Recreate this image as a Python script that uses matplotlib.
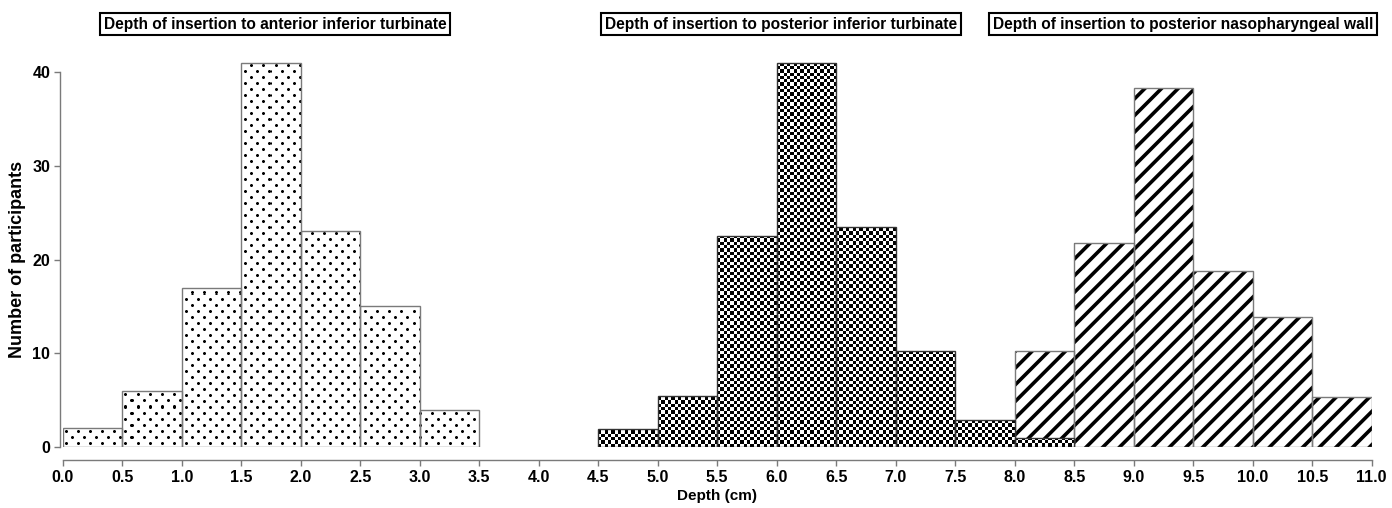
import numpy as np
import matplotlib
matplotlib.use('Agg')
import matplotlib.pyplot as plt

plt.rcParams['font.family'] = ['Liberation Sans', 'DejaVu Sans']
plt.rcParams['font.weight'] = 'bold'

# bin left edges (cm) and bar heights
ant_edges = [0.0, 0.5, 1.0, 1.5, 2.0, 2.5, 3.0]
ant_counts = [2, 6, 17, 41, 23, 15, 4]
post_edges = [4.5, 5.0, 5.5, 6.0, 6.5, 7.0, 7.5, 8.0]
post_counts = [1.9, 5.4, 22.5, 41, 23.5, 10.2, 2.9, 1.0]
naso_edges = [8.0, 8.5, 9.0, 9.5, 10.0, 10.5]
naso_counts = [10.2, 21.8, 38.3, 18.8, 13.9, 5.3]

titles = ['Depth of insertion to anterior inferior turbinate',
          'Depth of insertion to posterior inferior turbinate',
          'Depth of insertion to posterior nasopharyngeal wall']
xticks = np.arange(0, 11.01, 0.5)
yticks = [0, 10, 20, 30, 40]
binw = 0.5

W, H = 1392, 508
fig = plt.figure(figsize=(W/100, H/100), dpi=100)
ax = fig.add_axes([62.7/W, 61/H, 1309/W, 393.75/H])
ax.set_xlim(0, 11)
ax.set_ylim(0, 42)

edge_grey = '#7a7a7a'


def texture_fill(patches, tex, extent, z):
    # paint a bitmap texture inside each bar
    for p in patches:
        im = ax.imshow(tex, cmap='gray', vmin=0, vmax=1, extent=extent,
                       origin='lower', aspect='auto',
                       interpolation='nearest', zorder=z)
        im.set_clip_path(p)


# nasopharyngeal wall: thick diagonal hatch
plt.rcParams['hatch.linewidth'] = 2.6
ax.bar(naso_edges, naso_counts, width=binw, align='edge', color='white',
       edgecolor='black', linewidth=0, hatch='//', zorder=2)
plt.rcParams['hatch.linewidth'] = 1.0
ax.bar(naso_edges, naso_counts, width=binw, align='edge', fill=False,
       edgecolor=edge_grey, linewidth=1.0, zorder=3)

# anterior inferior turbinate: staggered dot texture (soft 3x3 dots)
ii, jj = np.indices((394, 417))
cell = 6
on = (ii // cell + jj // cell) % 2 == 0
di = np.abs(ii % cell - 3)
dj = np.abs(jj % cell - 3)
dot_tex = np.ones(ii.shape)
dot_tex[on & (di <= 1) & (dj <= 1)] = 0.45
dot_tex[on & (di + dj <= 1)] = 0.0
b = ax.bar(ant_edges, ant_counts, width=binw, align='edge', color='white',
           linewidth=0, zorder=2)
texture_fill(b, dot_tex, (0, 3.5, 0, 42), 2.5)
ax.bar(ant_edges, ant_counts, width=binw, align='edge', fill=False,
       edgecolor=edge_grey, linewidth=1.0, zorder=3)

# posterior inferior turbinate: checkerboard texture
checker = (np.add.outer(np.arange(119), np.arange(144)) % 2).astype(float)
b = ax.bar(post_edges, post_counts, width=binw, align='edge', color='white',
           linewidth=0, zorder=4)
texture_fill(b, checker, (4.5, 8.5, 0, 42), 4.5)
ax.bar(post_edges, post_counts, width=binw, align='edge', fill=False,
       edgecolor='#333333', linewidth=1.0, zorder=5)
ax.set_xlim(0, 11)
ax.set_ylim(0, 42)

# axes styling
for s in ['top', 'right']:
    ax.spines[s].set_visible(False)
ax.spines['left'].set_position(('outward', 2))
ax.spines['bottom'].set_position(('outward', 9.5))
ax.spines['left'].set_bounds(0, 40)
ax.spines['bottom'].set_bounds(0, 11)
for s in ['left', 'bottom']:
    ax.spines[s].set_color(edge_grey)
    ax.spines[s].set_linewidth(1.0)
ax.set_xticks(xticks)
ax.set_xticklabels([f'{v:.1f}' for v in xticks])
ax.set_yticks(yticks)
ax.tick_params(axis='both', colors=edge_grey, labelcolor='black',
               labelsize=11.5, length=4, width=1.0, pad=3)
ax.set_xlabel('Depth (cm)', fontsize=11, fontweight='bold', labelpad=3)
ax.set_ylabel('Number of participants', fontsize=13, fontweight='bold')
ax.yaxis.set_label_coords(-0.028, 0.476)

# boxed titles above each histogram
title_pos = [(275, 24), (781, 24), (1183, 24)]
for t, (px, py) in zip(titles, title_pos):
    fig.text(px/W, 1 - py/H, t, ha='center', va='center', fontsize=11.2,
             fontweight='bold',
             bbox=dict(boxstyle='square,pad=0.25', facecolor='white',
                       edgecolor='black', linewidth=1.5))

fig.savefig('out.png', dpi=100)
